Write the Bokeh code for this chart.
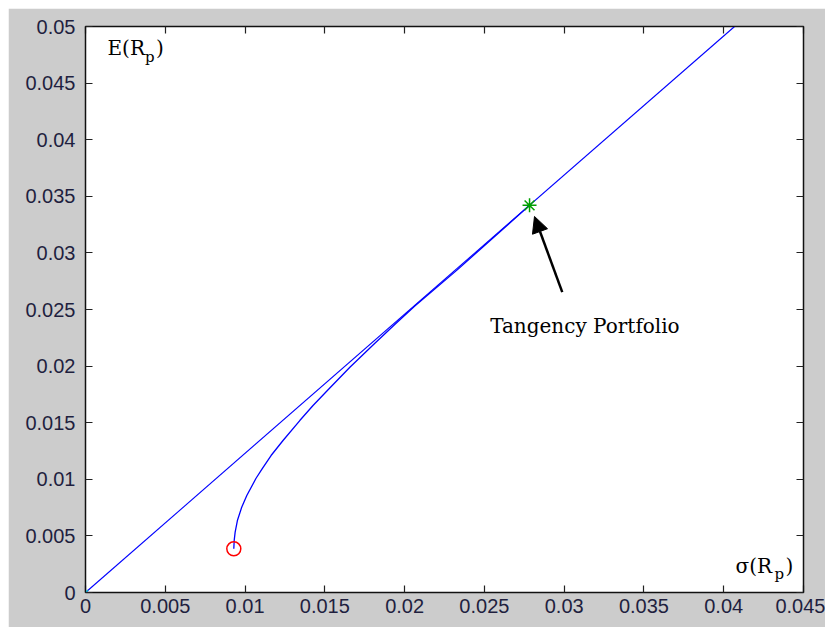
from bokeh.plotting import figure
from bokeh.models import (Range1d, LinearAxis, FixedTicker, CustomJSTickFormatter,
                          Label, Arrow, NormalHead)
from bokeh.embed import file_html
from bokeh.resources import INLINE

# ---- data -------------------------------------------------------------
x_ticks = [0, 0.005, 0.01, 0.015, 0.02, 0.025, 0.03, 0.035, 0.04, 0.045]
x_tick_labels = ["0", "0.005", "0.01", "0.015", "0.02", "0.025", "0.03", "0.035", "0.04", "0.045"]
y_ticks = [0, 0.005, 0.01, 0.015, 0.02, 0.025, 0.03, 0.035, 0.04, 0.045, 0.05]
y_tick_labels = ["0", "0.005", "0.01", "0.015", "0.02", "0.025", "0.03", "0.035", "0.04", "0.045", "0.05"]

# efficient frontier (risky assets only), sigma vs expected return
frontier_sigma = [0.009295, 0.009320, 0.009379, 0.009520, 0.009790, 0.010110, 0.010680,
                  0.011080, 0.011630, 0.012380, 0.013430, 0.014260, 0.015280, 0.016570,
                  0.018120, 0.019400, 0.020640, 0.023300, 0.025520, 0.027830]
frontier_mu = [0.00386, 0.00460, 0.00533, 0.00636, 0.00753, 0.00857, 0.01007,
               0.01095, 0.01210, 0.01343, 0.01519, 0.01652, 0.01802, 0.01990,
               0.02200, 0.02370, 0.02530, 0.02850, 0.03130, 0.03420]

# capital market line
cml_sigma = [0.0, 0.04068]
cml_mu = [0.0, 0.05]

minvar_sigma = [0.009295]
minvar_mu = [0.00386]
tangency_sigma = [0.02783]
tangency_mu = [0.0342]
rf_sigma = [0.0]
rf_mu = [0.0]

# ---- figure -----------------------------------------------------------
p = figure(width=817, height=619, output_backend="svg", toolbar_location=None,
           x_range=Range1d(0, 0.045), y_range=Range1d(0, 0.05),
           x_axis_type=None, y_axis_type=None,
           min_border_left=77, min_border_right=22, min_border_top=18, min_border_bottom=35)
p.margin = (8, 0, 0, 8)
p.border_fill_color = "#cccccc"
p.background_fill_color = "white"
p.outline_line_color = "#111111"
p.outline_line_width = 1.5
p.xgrid.visible = False
p.ygrid.visible = False

tick_font = "Liberation Sans"
tick_color = "#1f1f3f"


def make_axis(ticks, labels, show_labels, standoff):
    ax = LinearAxis(ticker=FixedTicker(ticks=ticks),
                    formatter=CustomJSTickFormatter(args=dict(labels=labels),
                                                    code="return labels[index];"))
    ax.major_tick_in = 7
    ax.major_tick_out = 0
    ax.minor_tick_line_color = None
    ax.major_tick_line_color = "#222222"
    ax.major_tick_line_width = 1.2
    ax.axis_line_color = "#111111"
    ax.axis_line_width = 1
    if show_labels:
        ax.major_label_text_font = tick_font
        ax.major_label_text_font_size = "20px"
        ax.major_label_text_color = tick_color
        ax.major_label_standoff = standoff
    else:
        ax.major_label_text_font_size = "1px"
        ax.major_label_text_color = None
        ax.major_label_standoff = 0
    return ax


p.add_layout(make_axis(x_ticks, x_tick_labels, True, 6), "below")
p.add_layout(make_axis(y_ticks, y_tick_labels, True, 10), "left")
p.add_layout(make_axis(x_ticks, x_tick_labels, False, 0), "above")
p.add_layout(make_axis(y_ticks, y_tick_labels, False, 0), "right")

# ---- glyphs -----------------------------------------------------------
p.line(cml_sigma, cml_mu, line_color="#0000ff", line_width=1.1)
p.line(frontier_sigma, frontier_mu, line_color="#0000ff", line_width=1.3)
p.scatter(minvar_sigma, minvar_mu, marker="circle", size=14, fill_color=None,
          line_color="#ff0000", line_width=1.5)
p.scatter(tangency_sigma, tangency_mu, marker="asterisk", size=14,
          line_color="#00a000", line_width=1.5)
p.scatter(rf_sigma, rf_mu, marker="x", size=7, line_color="#00c0c0", line_width=1.2)

# ---- annotations ------------------------------------------------------
serif = "DejaVu Serif"
p.add_layout(Label(x=0.00138, y=0.0470, text="E(R", text_font=serif,
                   text_font_size="20px", text_color="black"))
p.add_layout(Label(x=0.00373, y=0.04655, text="p", text_font=serif,
                   text_font_size="15px", text_color="black"))
p.add_layout(Label(x=0.00442, y=0.0470, text=")", text_font=serif,
                   text_font_size="20px", text_color="black"))

p.add_layout(Label(x=0.04074, y=0.00124, text="σ(R", text_font=serif,
                   text_font_size="20px", text_color="black"))
p.add_layout(Label(x=0.04318, y=0.00080, text="p", text_font=serif,
                   text_font_size="15px", text_color="black"))
p.add_layout(Label(x=0.04387, y=0.00124, text=")", text_font=serif,
                   text_font_size="20px", text_color="black"))

p.add_layout(Label(x=0.02536, y=0.02244, text="Tangency Portfolio", text_font=serif,
                   text_font_size="20px", text_color="black"))

p.add_layout(Arrow(x_start=0.02988, y_start=0.02653, x_end=0.02814, y_end=0.03322,
                   line_color="black", line_width=2.5,
                   end=NormalHead(size=16, fill_color="black", line_color="black")))

open("out.html", "w").write(file_html(p, INLINE))
